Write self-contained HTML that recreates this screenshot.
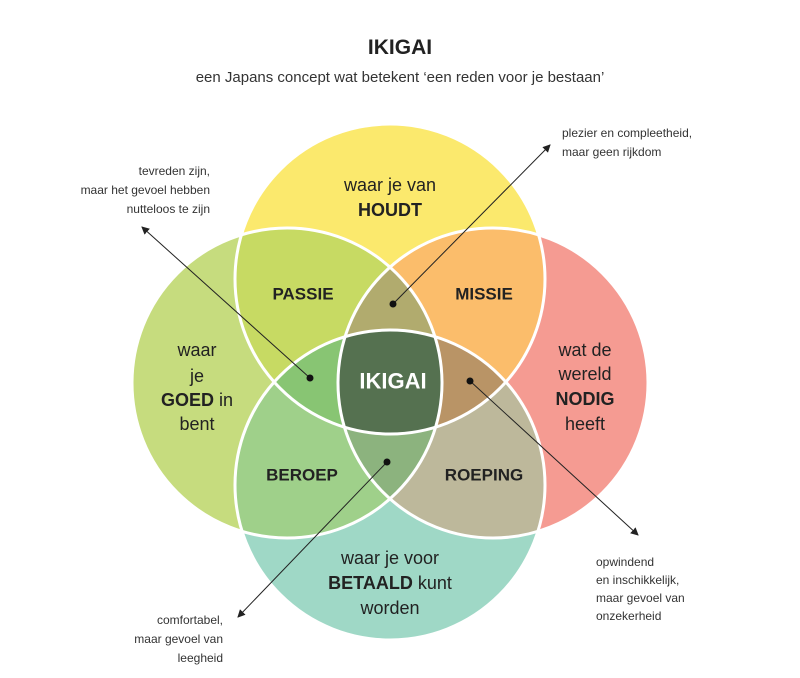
<!DOCTYPE html>
<html><head><meta charset="utf-8"><style>
html,body{margin:0;padding:0;background:#fff;}
svg{display:block;font-family:"Liberation Sans",sans-serif;}
</style></head><body>
<svg width="800" height="678" viewBox="0 0 800 678" xmlns="http://www.w3.org/2000/svg">
<defs>
<clipPath id="cT"><circle cx="390" cy="279" r="155"/></clipPath>
<clipPath id="cL"><circle cx="287" cy="383" r="155"/></clipPath>
<clipPath id="cR"><circle cx="493" cy="383" r="155"/></clipPath>
<clipPath id="cB"><circle cx="390" cy="485" r="155"/></clipPath>
<marker id="ar" markerWidth="8" markerHeight="8" refX="7" refY="4" orient="auto" markerUnits="userSpaceOnUse"><path d="M0,0 L8,4 L0,8 z" fill="#222"/></marker>
</defs>
<text x="400" y="54" text-anchor="middle" font-size="21" font-weight="bold" fill="#222">IKIGAI</text>
<text x="400" y="82" text-anchor="middle" font-size="15" fill="#333">een Japans concept wat betekent ‘een reden voor je bestaan’</text>

<circle cx="390" cy="279" r="155" fill="#fbe96d"/>
<circle cx="287" cy="383" r="155" fill="#c6dc7e"/>
<circle cx="493" cy="383" r="155" fill="#f59b92"/>
<circle cx="390" cy="485" r="155" fill="#9fd8c6"/>
<!-- pairs -->
<g clip-path="url(#cT)"><circle cx="287" cy="383" r="155" fill="#c7da63"/></g>
<g clip-path="url(#cT)"><circle cx="493" cy="383" r="155" fill="#fbbd6b"/></g>
<g clip-path="url(#cB)"><circle cx="287" cy="383" r="155" fill="#9fd08a"/></g>
<g clip-path="url(#cB)"><circle cx="493" cy="383" r="155" fill="#bdb89b"/></g>
<!-- triples -->
<g clip-path="url(#cT)"><g clip-path="url(#cL)"><circle cx="493" cy="383" r="155" fill="#b1ab6e"/></g></g>
<g clip-path="url(#cT)"><g clip-path="url(#cL)"><circle cx="390" cy="485" r="155" fill="#88c573"/></g></g>
<g clip-path="url(#cT)"><g clip-path="url(#cR)"><circle cx="390" cy="485" r="155" fill="#b99466"/></g></g>
<g clip-path="url(#cL)"><g clip-path="url(#cR)"><circle cx="390" cy="485" r="155" fill="#8cb37e"/></g></g>
<!-- quad -->
<g clip-path="url(#cT)"><g clip-path="url(#cL)"><g clip-path="url(#cR)"><circle cx="390" cy="485" r="155" fill="#557150"/></g></g></g>
<g fill="none" stroke="#fff" stroke-width="3">
<circle cx="390" cy="279" r="155"/><circle cx="287" cy="383" r="155"/><circle cx="493" cy="383" r="155"/><circle cx="390" cy="485" r="155"/>
</g>

<g font-size="18" fill="#222" text-anchor="middle" dominant-baseline="central">
<text x="390" y="185">waar je van</text>
<text x="390" y="210" font-weight="bold">HOUDT</text>
<text x="197" y="350">waar</text>
<text x="197" y="376">je</text>
<text x="197" y="400"><tspan font-weight="bold">GOED</tspan> in</text>
<text x="197" y="424">bent</text>
<text x="585" y="350">wat de</text>
<text x="585" y="374">wereld</text>
<text x="585" y="399" font-weight="bold">NODIG</text>
<text x="585" y="424">heeft</text>
<text x="390" y="558">waar je voor</text>
<text x="390" y="583"><tspan font-weight="bold">BETAALD</tspan> kunt</text>
<text x="390" y="608">worden</text>
<g font-weight="bold" font-size="17">
<text x="303" y="294">PASSIE</text>
<text x="484" y="294">MISSIE</text>
<text x="302" y="475">BEROEP</text>
<text x="484" y="475">ROEPING</text>
</g>
<text x="393" y="381" font-weight="bold" font-size="22" fill="#fff">IKIGAI</text>
</g>

<g stroke="#222" stroke-width="1" fill="none">
<line x1="393" y1="304" x2="550" y2="145" marker-end="url(#ar)"/>
<line x1="310" y1="378" x2="142" y2="227" marker-end="url(#ar)"/>
<line x1="470" y1="381" x2="638" y2="535" marker-end="url(#ar)"/>
<line x1="387" y1="462" x2="238" y2="617" marker-end="url(#ar)"/>
</g>
<g fill="#111">
<circle cx="393" cy="304" r="3.5"/><circle cx="310" cy="378" r="3.5"/>
<circle cx="470" cy="381" r="3.5"/><circle cx="387" cy="462" r="3.5"/>
</g>

<g font-size="12" fill="#333">
<text x="562" y="137">plezier en compleetheid,</text>
<text x="562" y="156">maar geen rijkdom</text>
<g text-anchor="end">
<text x="210" y="175">tevreden zijn,</text>
<text x="210" y="194">maar het gevoel hebben</text>
<text x="210" y="213">nutteloos te zijn</text>
<text x="223" y="624">comfortabel,</text>
<text x="223" y="643">maar gevoel van</text>
<text x="223" y="662">leegheid</text>
</g>
<text x="596" y="566">opwindend</text>
<text x="596" y="584">en inschikkelijk,</text>
<text x="596" y="602">maar gevoel van</text>
<text x="596" y="620">onzekerheid</text>
</g>
</svg>
</body></html>
